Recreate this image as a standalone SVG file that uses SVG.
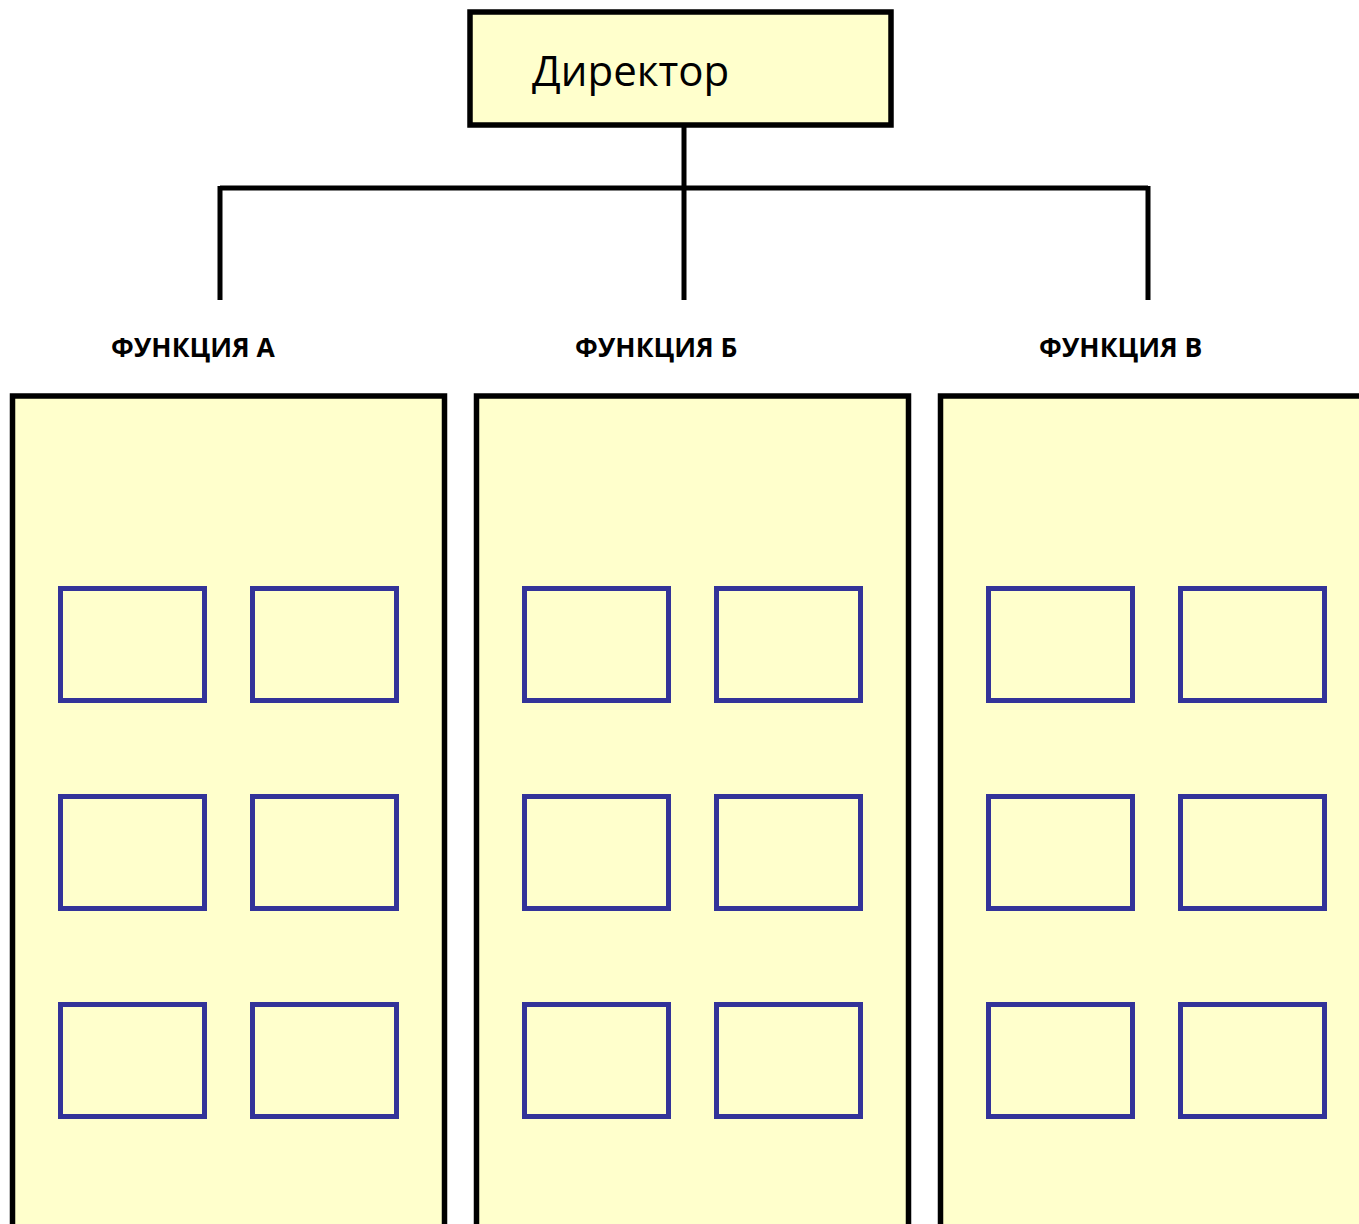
<svg xmlns="http://www.w3.org/2000/svg" width="1359" height="1224" viewBox="0 0 1359 1224">
<style>
.box{fill:#FFFFCC;stroke:#000;stroke-width:5.5}
.sub{fill:#FFFFCC;stroke:#333399;stroke-width:5}
.conn{stroke:#000;stroke-width:5;fill:none}
.lbl{font-family:"Open Sans","Liberation Sans",sans-serif;font-weight:bold;font-size:26.5px;fill:#000}
.dir{font-family:"Open Sans","Liberation Sans",sans-serif;font-size:42px;fill:#000}
</style>
<rect width="1359" height="1224" fill="#fff"/>
<g id="connectors">
<path class="conn" d="M684 125V188M220 188H1148M220 186V300M684 188V300M1148 186V300"/>
</g>
<g id="director">
<rect class="box" x="470" y="12" width="421" height="113"/>
<text class="dir" x="532" y="86">Директор</text>
</g>
<g id="label-a"><text class="lbl" x="111" y="357">ФУНКЦИЯ А</text></g>
<g id="label-b"><text class="lbl" x="575" y="357">ФУНКЦИЯ Б</text></g>
<g id="label-c"><text class="lbl" x="1039" y="357">ФУНКЦИЯ В</text></g>
<g id="column-a">
<rect class="box" x="12.5" y="396" width="432" height="840"/>
<rect class="sub" x="60.5" y="588.5" width="144" height="112"/>
<rect class="sub" x="252.5" y="588.5" width="144" height="112"/>
<rect class="sub" x="60.5" y="796.5" width="144" height="112"/>
<rect class="sub" x="252.5" y="796.5" width="144" height="112"/>
<rect class="sub" x="60.5" y="1004.5" width="144" height="112"/>
<rect class="sub" x="252.5" y="1004.5" width="144" height="112"/>
</g>
<g id="column-b">
<rect class="box" x="476.5" y="396" width="432" height="840"/>
<rect class="sub" x="524.5" y="588.5" width="144" height="112"/>
<rect class="sub" x="716.5" y="588.5" width="144" height="112"/>
<rect class="sub" x="524.5" y="796.5" width="144" height="112"/>
<rect class="sub" x="716.5" y="796.5" width="144" height="112"/>
<rect class="sub" x="524.5" y="1004.5" width="144" height="112"/>
<rect class="sub" x="716.5" y="1004.5" width="144" height="112"/>
</g>
<g id="column-c">
<rect class="box" x="940.5" y="396" width="432" height="840"/>
<rect class="sub" x="988.5" y="588.5" width="144" height="112"/>
<rect class="sub" x="1180.5" y="588.5" width="144" height="112"/>
<rect class="sub" x="988.5" y="796.5" width="144" height="112"/>
<rect class="sub" x="1180.5" y="796.5" width="144" height="112"/>
<rect class="sub" x="988.5" y="1004.5" width="144" height="112"/>
<rect class="sub" x="1180.5" y="1004.5" width="144" height="112"/>
</g>
</svg>
